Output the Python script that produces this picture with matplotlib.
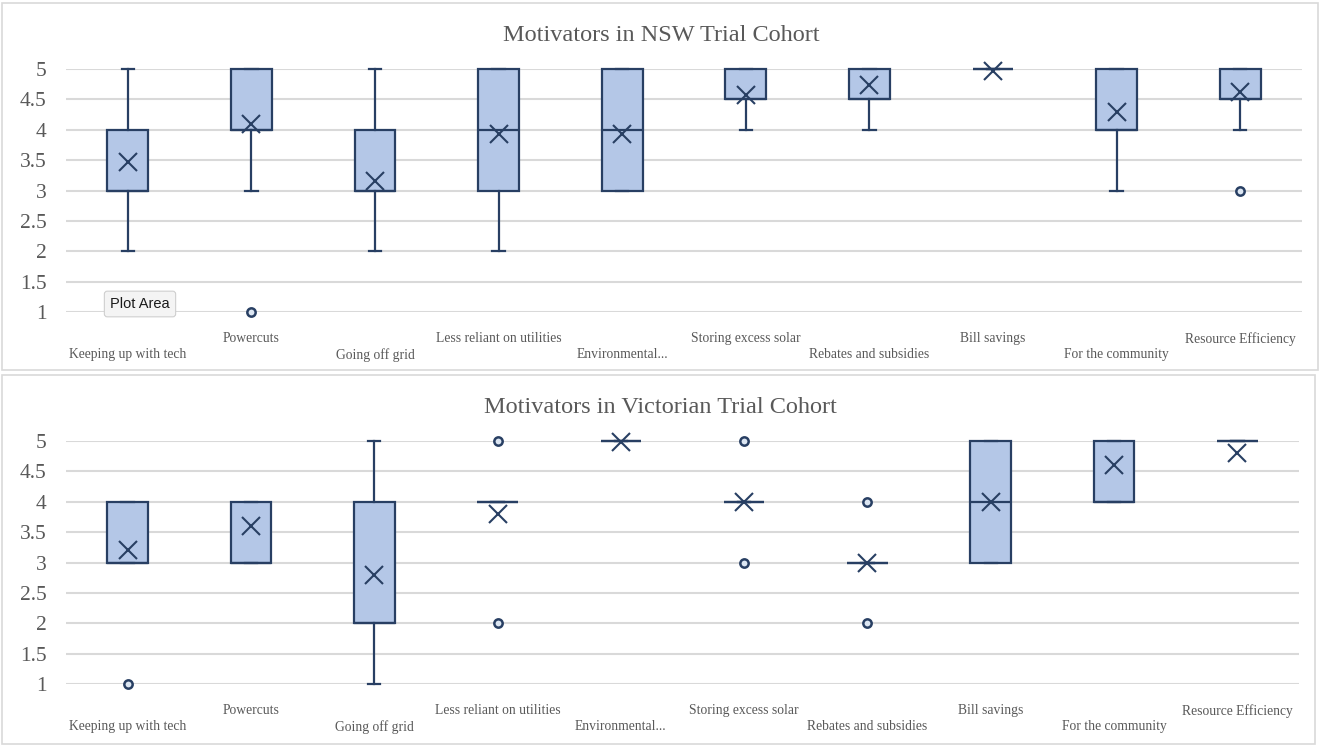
import matplotlib
matplotlib.use("Agg")
import matplotlib.pyplot as plt
from matplotlib.patches import Rectangle

categories = ["Keeping up with tech", "Powercuts", "Going off grid", "Less reliant on utilities",
              "Environmental...", "Storing excess solar", "Rebates and subsidies", "Bill savings",
              "For the community", "Resource Efficiency"]
y_ticks = [1, 1.5, 2, 2.5, 3, 3.5, 4, 4.5, 5]
y_tick_labels = ["1", "1.5", "2", "2.5", "3", "3.5", "4", "4.5", "5"]

# NSW cohort
nsw_whislo = [2, 3, 2, 2, 3, 4, 4, 5, 3, 4]
nsw_q1 = [3, 4, 3, 3, 3, 4.5, 4.5, 5, 4, 4.5]
nsw_med = [3, 4, 3, 4, 4, 4.5, 4.5, 5, 4, 4.5]
nsw_q3 = [4, 5, 4, 5, 5, 5, 5, 5, 5, 5]
nsw_whishi = [5, 5, 5, 5, 5, 5, 5, 5, 5, 5]
nsw_mean = [3.47, 4.1, 3.15, 3.93, 3.93, 4.58, 4.73, 4.97, 4.3, 4.62]
nsw_fliers = [[], [1], [], [], [], [], [], [], [], [3]]

# Victorian cohort
vic_whislo = [3, 3, 1, 4, 5, 4, 3, 3, 4, 5]
vic_q1 = [3, 3, 2, 4, 5, 4, 3, 3, 4, 5]
vic_med = [3, 3, 2, 4, 5, 4, 3, 4, 4, 5]
vic_q3 = [4, 4, 4, 4, 5, 4, 3, 5, 5, 5]
vic_whishi = [4, 4, 5, 4, 5, 4, 3, 5, 5, 5]
vic_mean = [3.2, 3.6, 2.8, 3.8, 4.98, 4.0, 3.0, 4.0, 4.6, 4.8]
vic_fliers = [[1], [], [], [5, 2], [], [5, 3], [4, 2], [], [], []]

DARK = "#283F63"
FILL = "#B4C7E7"
TXT = "#595959"
GRID = "#D9D9D9"
SERIF = ["Liberation Serif", "DejaVu Serif"]

fig = plt.figure(figsize=(13.21, 7.46), dpi=100)
fig.patch.set_facecolor("white")

# panel frames
fig.add_artist(Rectangle((2 / 1321, 1 - 370 / 746), 1316 / 1321, 367 / 746, transform=fig.transFigure,
                         fill=False, edgecolor="#D9D9D9", lw=1.2))
fig.add_artist(Rectangle((2 / 1321, 1 - 744 / 746), 1313 / 1321, 369 / 746, transform=fig.transFigure,
                         fill=False, edgecolor="#D9D9D9", lw=1.2))


def draw_panel(ax, title, whislo, q1, med, q3, whishi, mean, fliers, title_x):
    stats = []
    for i in range(len(categories)):
        stats.append(dict(whislo=whislo[i], q1=q1[i], med=med[i], q3=q3[i], whishi=whishi[i],
                          mean=mean[i], fliers=fliers[i], label=categories[i]))
    pos = list(range(len(categories)))
    arts = ax.bxp(stats, positions=pos, widths=0.33, capwidths=0.1, patch_artist=True,
                  showmeans=True, showfliers=True,
                  boxprops=dict(facecolor=FILL, edgecolor=DARK, linewidth=1.6),
                  medianprops=dict(color=DARK, linewidth=1.6),
                  whiskerprops=dict(color=DARK, linewidth=1.6),
                  capprops=dict(color=DARK, linewidth=1.6),
                  meanprops=dict(marker="x", markersize=13, markeredgecolor=DARK, markeredgewidth=1.5),
                  flierprops=dict(marker="o", markersize=6, markerfacecolor="#DCE6F2",
                                  markeredgecolor=DARK, markeredgewidth=1.8))
    for key in arts:
        for a in arts[key]:
            a.set_clip_on(False)
            a.set_zorder(3)
    ax.set_xlim(-0.5, len(categories) - 0.5)
    ax.set_ylim(1, 5)
    ax.set_yticks(y_ticks)
    ax.set_yticklabels(y_tick_labels, fontsize=15.5, color=TXT, family=SERIF)
    ax.set_xticks(pos)
    labels = [("\n" + c) if i % 2 == 0 else c for i, c in enumerate(categories)]
    ax.set_xticklabels(labels, fontsize=9.8, color=TXT, family=SERIF, linespacing=1.3)
    ax.tick_params(axis="both", length=0)
    ax.tick_params(axis="y", pad=14)
    ax.tick_params(axis="x", pad=14.5)
    for s in ax.spines.values():
        s.set_visible(False)
    ax.yaxis.grid(True, color=GRID, linewidth=1.5, zorder=0)
    ax.set_axisbelow(True)
    ax.set_title(title, fontsize=17.5, color=TXT, family=SERIF, pad=20, x=title_x)


ax1 = fig.add_axes([66 / 1321, 1 - 312 / 746, 1236 / 1321, 243 / 746])
draw_panel(ax1, "Motivators in NSW Trial Cohort", nsw_whislo, nsw_q1, nsw_med, nsw_q3,
           nsw_whishi, nsw_mean, nsw_fliers, (661 - 66) / 1236)

ax2 = fig.add_axes([66 / 1321, 1 - 684 / 746, 1233 / 1321, 243 / 746])
draw_panel(ax2, "Motivators in Victorian Trial Cohort", vic_whislo, vic_q1, vic_med, vic_q3,
           vic_whishi, vic_mean, vic_fliers, (660 - 66) / 1233)

# "Plot Area" tooltip
fig.text(140 / 1321, 1 - 304 / 746, "Plot Area", fontsize=10.5, color="#1A1A1A",
         family="Liberation Sans", ha="center", va="center", zorder=10,
         bbox=dict(boxstyle="round,pad=0.4,rounding_size=0.2", facecolor="#F4F4F4",
                   edgecolor="#CFCFCF", linewidth=0.8))

fig.savefig("out.png", dpi=100, facecolor="white")
